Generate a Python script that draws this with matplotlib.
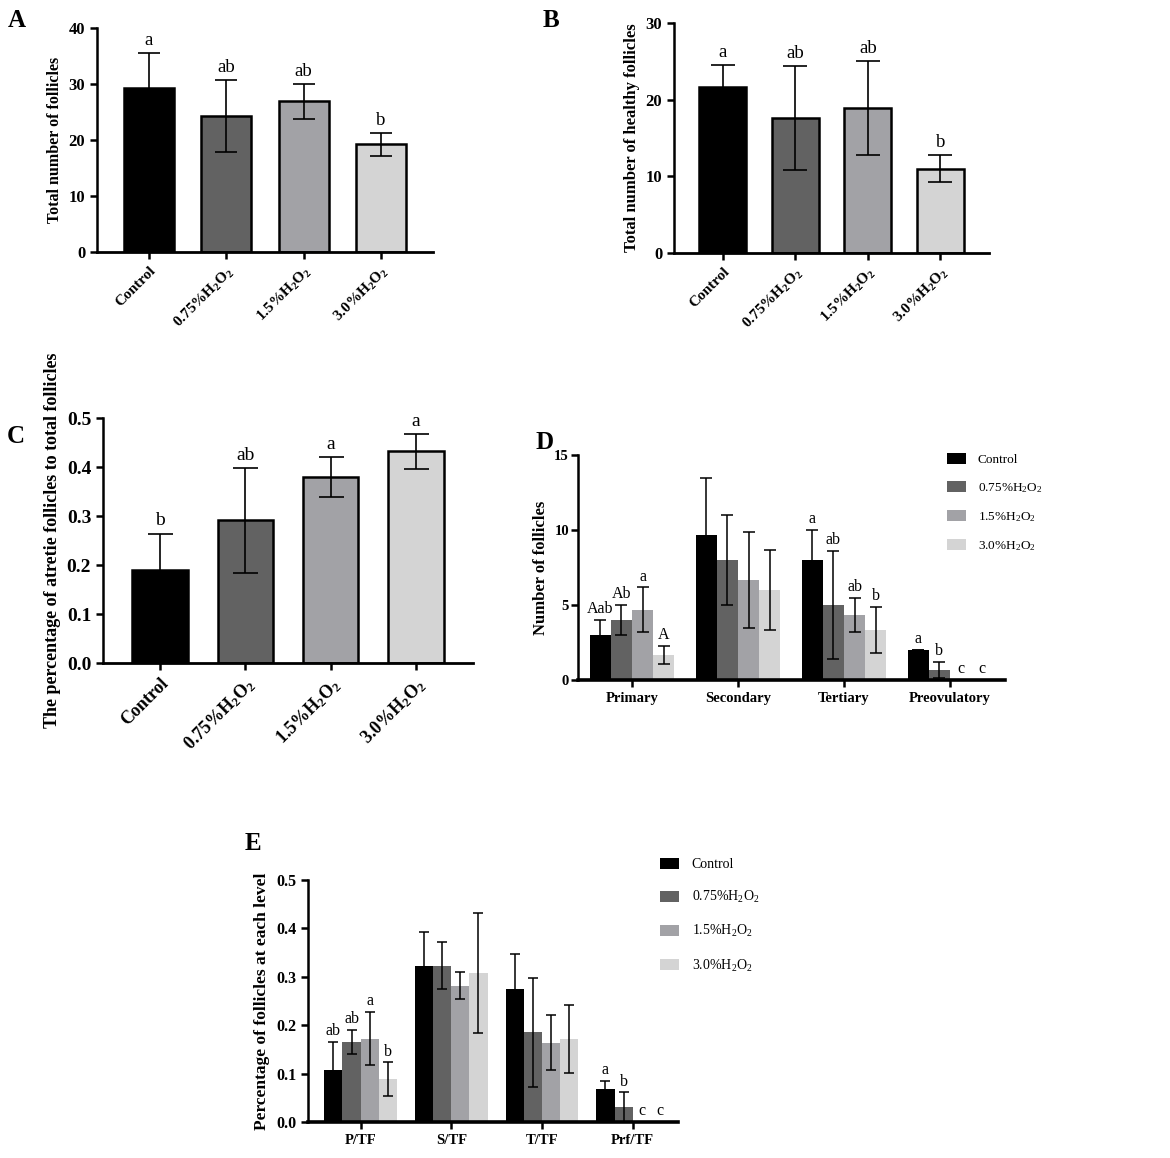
import numpy as np
import matplotlib
matplotlib.use("Agg")
import matplotlib.pyplot as plt
from matplotlib.ticker import FormatStrFormatter

plt.rcParams['font.family'] = ['Liberation Serif', 'DejaVu Serif']
plt.rcParams['mathtext.fontset'] = 'custom'
plt.rcParams['mathtext.rm'] = 'Liberation Serif'
plt.rcParams['mathtext.default'] = 'regular'

# groups / colours
groups = ['Control', '0.75%H$_2$O$_2$', '1.5%H$_2$O$_2$', '3.0%H$_2$O$_2$']
group_colors = ['#000000', '#626262', '#a2a2a6', '#d4d4d4']

# A - total follicles
a_mean = [29.2, 24.3, 26.9, 19.2]
a_err = [6.3, 6.4, 3.1, 2.1]
a_sig = ['a', 'ab', 'ab', 'b']

# B - healthy follicles
b_mean = [21.6, 17.6, 18.9, 11.0]
b_err = [2.9, 6.8, 6.1, 1.8]
b_sig = ['a', 'ab', 'ab', 'b']

# C - atretic / total
c_mean = [0.190, 0.291, 0.379, 0.432]
c_err = [0.074, 0.107, 0.041, 0.036]
c_sig = ['b', 'ab', 'a', 'a']

# D - number of follicles by stage
d_stages = ['Primary', 'Secondary', 'Tertiary', 'Preovulatory']
d_mean = [[3.0, 9.67, 8.0, 2.0],
          [4.0, 8.0, 5.0, 0.67],
          [4.67, 6.67, 4.33, 0.0],
          [1.67, 6.0, 3.33, 0.0]]
d_err = [[1.0, 3.8, 2.0, 0.0],
         [1.0, 3.0, 3.6, 0.55],
         [1.5, 3.2, 1.12, 0.0],
         [0.58, 2.65, 1.55, 0.0]]
d_sig = [['Aab', '', 'a', 'a'],
         ['Ab', '', 'ab', 'b'],
         ['a', '', 'ab', 'c'],
         ['A', '', 'b', 'c']]

# E - percentage at each level
e_stages = ['P/TF', 'S/TF', 'T/TF', 'Prf/TF']
e_mean = [[0.108, 0.323, 0.275, 0.069],
          [0.166, 0.323, 0.185, 0.031],
          [0.172, 0.282, 0.164, 0.0],
          [0.088, 0.307, 0.171, 0.0]]
e_err = [[0.057, 0.070, 0.072, 0.016],
         [0.025, 0.049, 0.113, 0.030],
         [0.055, 0.027, 0.057, 0.0],
         [0.035, 0.124, 0.070, 0.0]]
e_sig = [['ab', '', '', 'a'],
         ['ab', '', '', 'b'],
         ['a', '', '', 'c'],
         ['b', '', '', 'c']]

W, H = 1170, 1158
fig = plt.figure(figsize=(W / 100, H / 100), dpi=100)


def px_axes(l, t, r, b):
    return fig.add_axes([l / W, 1 - b / H, (r - l) / W, (b - t) / H])


def style_axes(ax, tick_fs, xlw=2.0, fmt=None, ypad=3.5):
    for s in ['top', 'right']:
        ax.spines[s].set_visible(False)
    ax.spines['left'].set_linewidth(1.8)
    ax.spines['bottom'].set_linewidth(xlw)
    ax.tick_params(axis='both', direction='out', length=5, width=1.8)
    ax.tick_params(axis='y', pad=ypad)
    if fmt:
        ax.yaxis.set_major_formatter(FormatStrFormatter(fmt))
    for lab in ax.get_yticklabels():
        lab.set_fontweight('bold')
        lab.set_fontsize(tick_fs)


def single_panel(ax, mean, err, sig, ylim, yticks, ylabel, tick_fs, lab_fs, xfs,
                 sig_fs, capsize, fmt=None):
    x = np.arange(len(groups))
    ax.bar(x, mean, width=0.65, color=group_colors, edgecolor='black', linewidth=1.8, zorder=2)
    ax.errorbar(x, mean, yerr=err, fmt='none', ecolor='black', elinewidth=1.2,
                capsize=capsize, capthick=1.2, zorder=3)
    for xi, m, e, s in zip(x, mean, err, sig):
        ax.annotate(s, (xi, m + e), xytext=(0, 3), textcoords='offset points',
                    ha='center', va='bottom', fontsize=sig_fs)
    ax.set_xlim(-0.67, 3.67)
    ax.set_ylim(*ylim)
    ax.set_yticks(yticks)
    ax.set_xticks(x)
    ax.set_xticklabels(groups, rotation=45, ha='right', rotation_mode='anchor',
                       fontsize=xfs, fontweight='bold')
    ax.set_ylabel(ylabel, fontsize=lab_fs, fontweight='bold')
    style_axes(ax, tick_fs, fmt=fmt)


def group_panel(ax, stages, mean, err, sig, ylim, yticks, ylabel, tick_fs, lab_fs,
                cat_fs, sig_fs, capsize, xlim, legend_xy, legend_fs, spacing,
                fmt=None, ypad=3.5):
    x = np.arange(len(stages))
    w = 0.2
    for i in range(len(groups)):
        xi = x + (i - 1.5) * w
        ax.bar(xi, mean[i], width=w, color=group_colors[i], label=groups[i], zorder=2)
        ax.errorbar(xi, mean[i], yerr=err[i], fmt='none', ecolor='black', elinewidth=1.1,
                    capsize=capsize, capthick=1.1, zorder=3)
        for xx, m, e, s in zip(xi, mean[i], err[i], sig[i]):
            if s:
                ax.annotate(s, (xx, m + e), xytext=(0, 2), textcoords='offset points',
                            ha='center', va='bottom', fontsize=sig_fs)
    ax.set_xlim(*xlim)
    ax.set_ylim(*ylim)
    ax.set_yticks(yticks)
    ax.set_xticks(x)
    ax.set_xticklabels(stages, fontsize=cat_fs, fontweight='bold')
    ax.set_ylabel(ylabel, fontsize=lab_fs, fontweight='bold')
    style_axes(ax, tick_fs, xlw=2.6, fmt=fmt, ypad=ypad)
    handles = ax.get_legend_handles_labels()[0][:4]
    fig.legend(handles=handles, loc='upper left',
               bbox_to_anchor=(legend_xy[0] / W, 1 - legend_xy[1] / H),
               frameon=False, fontsize=legend_fs, handlelength=1.4, handleheight=0.9,
               handletextpad=0.9, labelspacing=spacing, borderaxespad=0)


axA = px_axes(97, 28, 433, 252)
single_panel(axA, a_mean, a_err, a_sig, (0, 40), [0, 10, 20, 30, 40],
             'Total number of follicles', 12, 11.5, 11, 13.5, 8)

axB = px_axes(674, 23, 989, 253)
single_panel(axB, b_mean, b_err, b_sig, (0, 30), [0, 10, 20, 30],
             'Total number of healthy follicles', 12, 12, 11, 13.5, 8.5)

axC = px_axes(103, 418, 473, 663)
single_panel(axC, c_mean, c_err, c_sig, (0, 0.5), [0, 0.1, 0.2, 0.3, 0.4, 0.5],
             'The percentage of atretie follicles to total follicles', 14, 13, 13, 14, 9,
             fmt='%.1f')

axD = px_axes(578, 455, 1005, 680)
group_panel(axD, d_stages, d_mean, d_err, d_sig, (0, 15), [0, 5, 10, 15],
            'Number of follicles', 10.5, 12, 10.5, 11.5, 4.5, (-0.51, 3.52), (942, 448),
            9.5, 1.15, ypad=1.5)

axE = px_axes(308, 880, 678, 1122)
group_panel(axE, e_stages, e_mean, e_err, e_sig, (0, 0.5), [0, 0.1, 0.2, 0.3, 0.4, 0.5],
            'Percentage of follicles at each level', 11.5, 12.5, 10.5, 11.5, 3.5,
            (-0.58, 3.5), (654, 852), 10, 1.3, fmt='%.1f')

# panel letters
for letter, (px, py) in zip('ABCDE', [(8, 9), (543, 9), (7, 425), (536, 431), (245, 832)]):
    fig.text(px / W, 1 - py / H, letter, fontsize=18, fontweight='bold', va='top', ha='left')

fig.savefig('out.png', dpi=100)
